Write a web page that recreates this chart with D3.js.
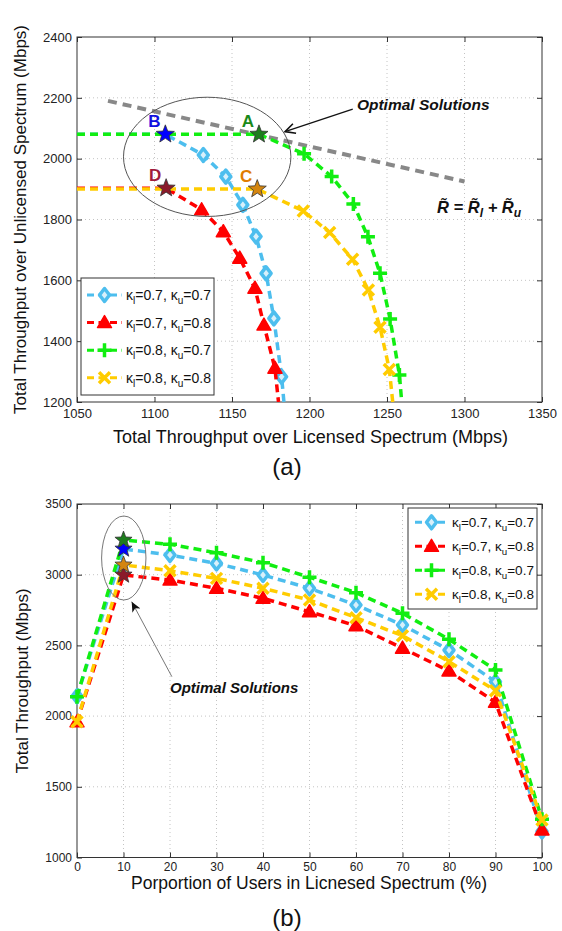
<!DOCTYPE html>
<html>
<head>
<meta charset="utf-8">
<script src="https://cdn.jsdelivr.net/npm/d3@7"></script>
<style>
  body { margin: 0; background: #fff; }
  svg { display: block; font-family: "Liberation Sans", Arial, Helvetica, sans-serif; }
</style>
</head>
<body>
<svg id="fig" width="562" height="931"></svg>
<script>
// series order: (kl,ku) = (0.7,0.7), (0.7,0.8), (0.8,0.7), (0.8,0.8)
const kappaL = [0.7, 0.7, 0.8, 0.8];
const kappaU = [0.7, 0.8, 0.7, 0.8];

// ---- panel (a): unlicensed vs licensed throughput (Mbps) ----
const optLabel = ["B", "D", "A", "C"];
const optLic = [1107, 1107.5, 1167.4, 1166.3];
const optUnl = [2080, 1903, 2080, 1900];
const exitLic = [1183.5, 1180, 1259.5, 1253.7];   // where each curve leaves the plot at 1200

const licS1 = [1131.5, 1146, 1157, 1165.5, 1172, 1177, 1182];
const unlS1 = [2012, 1941, 1848, 1744, 1623, 1475, 1283];
const licS2 = [1130.4, 1144.4, 1155, 1164.8, 1170.6, 1177.7];
const unlS2 = [1832, 1760, 1673, 1574, 1453, 1311];
const licS3 = [1196.5, 1214.3, 1228.3, 1237.7, 1245.5, 1252, 1258];
const unlS3 = [2016, 1941, 1851, 1743, 1623, 1473, 1289];
const licS4 = [1196, 1213, 1227.8, 1238, 1245.5, 1251.5];
const unlS4 = [1828, 1757, 1669, 1568, 1446, 1307];

// R = Rl + Ru reference line
const refLic = [1070, 1300];
const refUnl = [2190, 1925];

// ---- panel (b): total throughput vs proportion of licensed users ----
const pct = [0, 10, 20, 30, 40, 50, 60, 70, 80, 90, 100];
const totS1 = [2140, 3182, 3139, 3080, 2998, 2904, 2786, 2644, 2467, 2243, 1185];
const totS2 = [1960, 2998, 2962, 2904, 2833, 2738, 2639, 2480, 2319, 2098, 1195];
const totS3 = [2137, 3245, 3215, 3155, 3085, 2982, 2873, 2727, 2543, 2326, 1270];
const totS4 = [1960, 3069, 3028, 2974, 2904, 2821, 2696, 2569, 2385, 2180, 1265];

const colors = ["#4dbeee", "#ff0000", "#11ee11", "#ffcc00"];
const shapes = ["diamond", "triangle", "plus", "cross"];
const starFill = ["#0000ff", "#8b1a2a", "#1e7d1e", "#d4850f"];
const letterColor = ["#1010e0", "#a01c3c", "#1a8a1a", "#e07c00"];

const svg = d3.select("#fig");
svg.append("rect").attr("width", 562).attr("height", 931).attr("fill", "#fff");

const defs = svg.append("defs");
defs.append("marker").attr("id", "openHead")
  .attr("viewBox", "0 0 12 12").attr("refX", 11).attr("refY", 6)
  .attr("markerWidth", 12).attr("markerHeight", 12).attr("markerUnits", "userSpaceOnUse")
  .attr("orient", "auto")
  .append("path").attr("d", "M1,1 L11,6 L1,11").attr("fill", "none").attr("stroke", "#111").attr("stroke-width", 1.6);
defs.append("marker").attr("id", "fillHead")
  .attr("viewBox", "0 0 12 12").attr("refX", 11).attr("refY", 6)
  .attr("markerWidth", 11).attr("markerHeight", 11).attr("markerUnits", "userSpaceOnUse")
  .attr("orient", "auto")
  .append("path").attr("d", "M0,1 L11,6 L0,11 L3,6 Z").attr("fill", "#111");

function starPath(R) {
  let p = "";
  for (let k = 0; k < 10; k++) {
    const a = -Math.PI / 2 + k * Math.PI / 5, rr = k % 2 ? R * 0.42 : R;
    p += (k ? "L" : "M") + (rr * Math.cos(a)).toFixed(2) + "," + (rr * Math.sin(a)).toFixed(2);
  }
  return p + "Z";
}

function drawMarker(g, shape, color) {
  if (shape === "diamond")
    g.append("path").attr("d", "M0,-6.5L5,0L0,6.5L-5,0Z").attr("fill", "#d8f0fb").attr("stroke", color).attr("stroke-width", 3.5).attr("stroke-linejoin", "round");
  else if (shape === "triangle")
    g.append("path").attr("d", "M0,-7L7,5L-7,5Z").attr("fill", color).attr("stroke", color).attr("stroke-width", 1.5).attr("stroke-linejoin", "round");
  else if (shape === "plus")
    g.append("path").attr("d", "M-7,0H7M0,-7V7").attr("stroke", color).attr("stroke-width", 3.5);
  else
    g.append("path").attr("d", "M-5.5,-5.5L5.5,5.5M-5.5,5.5L5.5,-5.5").attr("stroke", color).attr("stroke-width", 3.5);
}

function frame(g, x, y, nx, ny, fs, pad) {
  const [xl, xr] = x.range(), [yb, yt] = y.range();
  const fmt = d3.format("d");
  const grid = g.append("g").attr("stroke", "#c4c4c4").attr("stroke-width", 1).attr("stroke-dasharray", "1,3");
  grid.selectAll(".gx").data(x.ticks(nx).slice(1, -1)).enter().append("line")
    .attr("x1", d => x(d)).attr("x2", d => x(d)).attr("y1", yt).attr("y2", yb);
  grid.selectAll(".gy").data(y.ticks(ny).slice(1, -1)).enter().append("line")
    .attr("x1", xl).attr("x2", xr).attr("y1", d => y(d)).attr("y2", d => y(d));

  const axes = [
    g.append("g").attr("transform", `translate(0,${yb})`).call(d3.axisBottom(x).ticks(nx).tickSize(-5).tickPadding(pad).tickFormat(fmt)),
    g.append("g").attr("transform", `translate(0,${yt})`).call(d3.axisTop(x).ticks(nx).tickSize(-5).tickFormat("")),
    g.append("g").attr("transform", `translate(${xl},0)`).call(d3.axisLeft(y).ticks(ny).tickSize(-5).tickPadding(5).tickFormat(fmt)),
    g.append("g").attr("transform", `translate(${xr},0)`).call(d3.axisRight(y).ticks(ny).tickSize(-5).tickFormat(""))
  ];
  axes.forEach(a => {
    a.attr("font-family", null).attr("font-size", fs);
    a.select(".domain").remove();
    a.selectAll(".tick line").attr("stroke", "#333");
    a.selectAll(".tick text").attr("fill", "#222");
  });
  g.append("rect").attr("x", xl).attr("y", yt).attr("width", xr - xl).attr("height", yb - yt)
    .attr("fill", "none").attr("stroke", "#333").attr("stroke-width", 1);
}

function kappaText(t, i, fs) {
  const sub = fs * 0.72;
  t.append("tspan").text("κ");
  t.append("tspan").attr("font-size", sub).attr("dy", 4).text("l");
  t.append("tspan").attr("dy", -4).text("=" + kappaL[i].toFixed(1) + ", κ");
  t.append("tspan").attr("font-size", sub).attr("dy", 4).text("u");
  t.append("tspan").attr("dy", -4).text("=" + kappaU[i].toFixed(1));
}

function legend(g, box, rowY0, rowStep, lineX, textX, fs) {
  g.append("rect").attr("x", box[0]).attr("y", box[1]).attr("width", box[2]).attr("height", box[3])
    .attr("fill", "#fff").attr("stroke", "#333").attr("stroke-width", 1);
  colors.forEach((c, i) => {
    const yy = rowY0 + i * rowStep;
    g.append("line").attr("x1", lineX[0]).attr("x2", lineX[1]).attr("y1", yy).attr("y2", yy)
      .attr("stroke", c).attr("stroke-width", 3).attr("stroke-dasharray", "7,4.5");
    drawMarker(g.append("g").attr("transform", `translate(${(lineX[0] + lineX[1]) / 2},${yy})`), shapes[i], c);
    const t = g.append("text").attr("x", textX).attr("y", yy + fs * 0.36).attr("font-size", fs).attr("fill", "#111");
    kappaText(t, i, fs);
  });
}

// ================= panel (a) =================
const xA = d3.scaleLinear().domain([1050, 1350]).range([77, 542]);
const yA = d3.scaleLinear().domain([1200, 2400]).range([402, 37]);
const gA = svg.append("g");
frame(gA, xA, yA, 6, 6, 13, 6.5);

defs.append("clipPath").attr("id", "clipA").append("rect")
  .attr("x", 77).attr("y", 37).attr("width", 465).attr("height", 365);

const plotA = gA.append("g").attr("clip-path", "url(#clipA)");
const lineA = d3.line().x(d => xA(d[0])).y(d => yA(d[1]));

// reference line R = Rl + Ru
plotA.append("path").datum(d3.zip(refLic, refUnl)).attr("d", lineA)
  .attr("fill", "none").attr("stroke", "#888").attr("stroke-width", 4).attr("stroke-dasharray", "9,6");

const licA = [licS1, licS2, licS3, licS4];
const unlA = [unlS1, unlS2, unlS3, unlS4];
colors.forEach((c, i) => {
  const pts = d3.zip(licA[i], unlA[i]);
  const full = [[1050, optUnl[i]], [optLic[i], optUnl[i]]].concat(pts, [[exitLic[i], 1200]]);
  plotA.append("path").datum(full).attr("d", lineA)
    .attr("fill", "none").attr("stroke", c).attr("stroke-width", 3.5).attr("stroke-dasharray", "8,5");
  pts.forEach(p => drawMarker(plotA.append("g").attr("transform", `translate(${xA(p[0])},${yA(p[1])})`), shapes[i], c));
});

// optimal points (stars) and letters
colors.forEach((c, i) => {
  const px = xA(optLic[i]), py = yA(optUnl[i]);
  gA.append("path").attr("d", starPath(9.5)).attr("transform", `translate(${px},${py})`)
    .attr("fill", starFill[i]).attr("stroke", "#333").attr("stroke-width", 0.8);
  gA.append("text").attr("x", px - 11).attr("y", py - 7).attr("text-anchor", "middle")
    .attr("font-size", 17).attr("font-weight", "bold").attr("fill", letterColor[i]).text(optLabel[i]);
});

// ellipse around optimal points
const ellA = { cx: 1134, cy: 2006, rx: 54, ry: 196 };
gA.append("ellipse").attr("cx", xA(ellA.cx)).attr("cy", yA(ellA.cy))
  .attr("rx", xA(ellA.cx + ellA.rx) - xA(ellA.cx)).attr("ry", yA(ellA.cy) - yA(ellA.cy + ellA.ry))
  .attr("fill", "none").attr("stroke", "#555").attr("stroke-width", 1);

// annotation arrow + text
gA.append("line").attr("x1", xA(1227.9)).attr("y1", yA(2163)).attr("x2", xA(1184.2)).attr("y2", yA(2089))
  .attr("stroke", "#111").attr("stroke-width", 1.3).attr("marker-end", "url(#openHead)");
gA.append("text").attr("x", xA(1230.6)).attr("y", yA(2160.5)).attr("font-size", 15.5)
  .attr("font-weight", "bold").attr("font-style", "italic").attr("fill", "#111").text("Optimal Solutions");

const fm = gA.append("text").attr("x", xA(1282.3)).attr("y", yA(1821.7)).attr("font-size", 16.5)
  .attr("font-weight", "bold").attr("font-style", "italic").attr("fill", "#111");
fm.append("tspan").text("R\u0303 = R\u0303");
fm.append("tspan").attr("font-size", 12).attr("dy", 4).text("l");
fm.append("tspan").attr("dy", -4).text(" + R\u0303");
fm.append("tspan").attr("font-size", 12).attr("dy", 4).text("u");

legend(gA, [81, 278, 133, 117], 295, 27.6, [87, 122], 126, 14);

// axis labels
gA.append("text").attr("transform", "translate(26,219.5) rotate(-90)").attr("text-anchor", "middle")
  .attr("font-size", 17).attr("fill", "#111").text("Total Throughput over Unlicensed Spectrum (Mbps)");
gA.append("text").attr("x", 310.5).attr("y", 442.5).attr("text-anchor", "middle")
  .attr("font-size", 18).attr("fill", "#111").text("Total Throughput over Licensed Spectrum (Mbps)");
gA.append("text").attr("x", 287).attr("y", 475).attr("text-anchor", "middle")
  .attr("font-size", 24).attr("fill", "#111").text("(a)");

// ================= panel (b) =================
const xB = d3.scaleLinear().domain([0, 100]).range([77, 542]);
const yB = d3.scaleLinear().domain([1000, 3500]).range([857.5, 504]);
const gB = svg.append("g");
frame(gB, xB, yB, 10, 5, 12, 5);

const lineB = d3.line().x(d => xB(d[0])).y(d => yB(d[1]));
const totB = [totS1, totS2, totS3, totS4];
colors.forEach((c, i) => {
  const pts = d3.zip(pct, totB[i]);
  const best = d3.maxIndex(totB[i]);
  gB.append("path").datum(pts).attr("d", lineB)
    .attr("fill", "none").attr("stroke", c).attr("stroke-width", 3.5).attr("stroke-dasharray", "8,5");
  pts.forEach((p, k) => {
    if (k !== best) drawMarker(gB.append("g").attr("transform", `translate(${xB(p[0])},${yB(p[1])})`), shapes[i], c);
  });
});
// stars: green drawn last so it sits on top
[1, 3, 0, 2].forEach(i => {
  const best = d3.maxIndex(totB[i]);
  gB.append("path").attr("d", starPath(9)).attr("transform", `translate(${xB(pct[best])},${yB(totB[i][best])})`)
    .attr("fill", starFill[i]).attr("stroke", "#333").attr("stroke-width", 0.8);
});

const ellB = { cx: 10.06, cy: 3118, rx: 4.77, ry: 297 };
gB.append("ellipse").attr("cx", xB(ellB.cx)).attr("cy", yB(ellB.cy))
  .attr("rx", xB(ellB.cx + ellB.rx) - xB(ellB.cx)).attr("ry", yB(ellB.cy) - yB(ellB.cy + ellB.ry))
  .attr("fill", "none").attr("stroke", "#777").attr("stroke-width", 1);
gB.append("line").attr("x1", xB(20.4)).attr("y1", yB(2279)).attr("x2", xB(11.76)).attr("y2", yB(2809))
  .attr("stroke", "#777").attr("stroke-width", 1).attr("marker-end", "url(#fillHead)");
gB.append("text").attr("x", xB(20)).attr("y", yB(2165)).attr("font-size", 15)
  .attr("font-weight", "bold").attr("font-style", "italic").attr("fill", "#111").text("Optimal Solutions");

legend(gB, [408, 508, 129, 101], 522.3, 24, [415, 448], 452, 13.5);

gB.append("text").attr("transform", "translate(28,680.75) rotate(-90)").attr("text-anchor", "middle")
  .attr("font-size", 17).attr("fill", "#111").text("Total Throughput (Mbps)");
gB.append("text").attr("x", 309).attr("y", 889.3).attr("text-anchor", "middle")
  .attr("font-size", 17.5).attr("fill", "#111").text("Porportion of Users in Licnesed Spectrum (%)");
gB.append("text").attr("x", 287).attr("y", 926).attr("text-anchor", "middle")
  .attr("font-size", 24).attr("fill", "#111").text("(b)");
</script>
</body>
</html>
